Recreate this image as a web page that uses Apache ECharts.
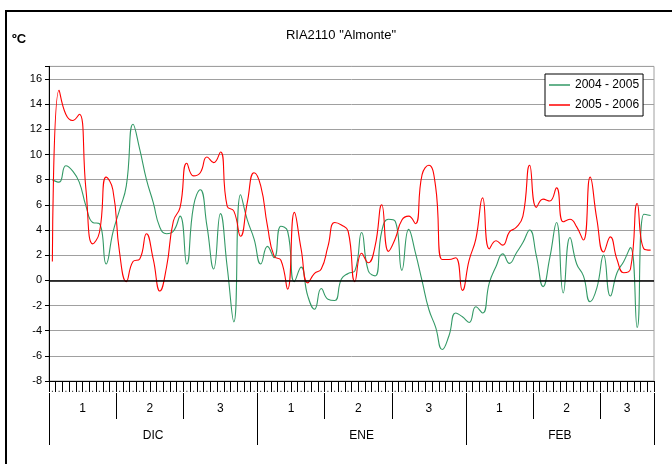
<!DOCTYPE html>
<html>
<head>
<meta charset="utf-8">
<script src="https://cdn.jsdelivr.net/npm/echarts@6/dist/echarts.min.js"></script>
<style>html,body{margin:0;padding:0;background:#fff;overflow:hidden}#c{width:672px;height:464px}</style>
</head>
<body>
<div id="c"></div>
<script>
// ---- data ----
const seriesNames = ['2004 - 2005', '2005 - 2006'];
// one value per day: 1 Dec .. 28 Feb (90 days)
const days = [];
(function(){ const ml=[['DIC',31],['ENE',31],['FEB',28]]; ml.forEach(m=>{for(let d=1;d<=m[1];d++) days.push(m[0]+' '+d);}); })();

const s2004 = [
  8.0, 7.8, 9.1, 8.7, 7.8, 5.9, 4.6, 4.5, 1.3, 3.8,
  5.6, 7.5, 12.4, 10.4, 8.0, 6.2, 4.2, 3.7, 3.9, 5.1,
  1.3, 5.9, 7.2, 4.3, 0.9, 5.3, 1.1, -3.3, 6.8, 4.8,
  3.3, 1.3, 2.7, 1.8, 4.3, 3.9, -0.1, 1.05, -1.25, -2.3,
  -0.65, -1.5, -1.6, 0.1, 0.55, 0.75, 3.8, 0.75, 0.35, 3.9,
  4.85, 4.7, 0.8, 4.05, 2.2, -0.05, -2.3, -3.7, -5.5, -4.4,
  -2.6, -2.9, -3.35, -2.1, -2.6, -0.2, 1.1, 2.1, 1.35, 2.15,
  3.0, 4.0, 1.95, -0.5, 1.8, 4.6, -1.0, 3.4, 1.3, 0.35,
  -1.7, -0.6, 2.0, -1.25, 0.6, 1.5, 2.6, -3.75, 5.25, 5.15
];
const s2005 = [
  1.5, 15.1, 13.2, 12.7, 13.2, 7.2, 2.9, 3.8, 8.2, 7.2,
  2.2, -0.1, 1.5, 1.7, 3.7, 1.7, -0.85, 1.1, 4.7, 5.8,
  9.3, 8.3, 8.55, 9.8, 9.35, 10.2, 5.9, 5.5, 3.5, 6.2,
  8.55, 7.5, 4.3, 1.9, 1.6, -0.7, 5.4, 2.5, -0.2, 0.55,
  0.9, 2.7, 4.6, 4.4, 3.9, -0.1, 2.15, 1.4, 2.7, 6.0,
  2.3, 3.3, 4.8, 5.1, 4.5, 8.4, 9.15, 7.5, 1.65, 1.65,
  1.8, -0.8, 1.6, 3.3, 6.55, 2.5, 3.15, 2.8, 3.85, 4.2,
  5.1, 9.15, 5.8, 6.45, 6.3, 7.35, 4.65, 4.85, 4.25, 3.2,
  8.2, 4.85, 2.25, 3.45, 1.65, 0.6, 0.9, 6.1, 2.5, 2.4
];
// grouping levels (day index boundaries)
const decadeBounds = [0, 10, 20, 31, 41, 51, 62, 72, 82, 90];
const decadeLabels = ['1', '2', '3', '1', '2', '3', '1', '2', '3'];
const monthBounds = [0, 31, 62, 90];
const monthLabels = ['DIC', 'ENE', 'FEB'];
const yTicks = { min: -8, max: 17, interval: 2 };

// ---- chart ----
const FONT = 'Liberation Sans, Arial, sans-serif';
const decadeCenters = decadeLabels.map((_, i) => (decadeBounds[i] + decadeBounds[i + 1]) / 2);
const monthCenters = monthLabels.map((_, i) => (monthBounds[i] + monthBounds[i + 1]) / 2);

const chart = echarts.init(document.getElementById('c'), null, { renderer: 'canvas' });
chart.setOption({
  animation: false,
  backgroundColor: '#fff',
  textStyle: { fontFamily: FONT },
  title: [
    { text: 'RIA2110 "Almonte"', left: 341, top: 29, textAlign: 'center', padding: 0,
      textStyle: { fontFamily: FONT, fontSize: 13, fontWeight: 'normal', color: '#000' } },
    { text: 'ºC', left: 12, top: 33, padding: 0,
      textStyle: { fontFamily: FONT, fontSize: 13, fontWeight: 'bold', color: '#000' } }
  ],
  legend: {
    orient: 'vertical', left: 545, top: 74,
    padding: [5, 4, 5, 4], itemGap: 8, itemWidth: 21, itemHeight: 1.5,
    icon: 'rect', borderColor: '#000', borderWidth: 1, backgroundColor: '#fff',
    textStyle: { fontFamily: FONT, fontSize: 12, color: '#000', padding: [0, 0, 0, 0] },
    data: seriesNames
  },
  grid: { left: 49, right: 18, top: 66.4, bottom: 83, show: true, borderColor: '#a0a0a0', borderWidth: 1, backgroundColor: 'transparent' },
  xAxis: [
    {
      type: 'category', data: days, boundaryGap: true, position: 'bottom',
      axisLine: { show: true, onZero: false, lineStyle: { color: '#000', width: 1 } },
      axisTick: { show: true, interval: 0, length: 11, lineStyle: { color: '#000', width: 1 } },
      axisLabel: { show: true, interval: 0, formatter: () => '.', fontSize: 10, margin: 3, color: '#333' },
      splitLine: { show: false }
    },
    {
      type: 'value', min: 0, max: 90, position: 'bottom', offset: 12,
      axisLine: { show: false, onZero: false },
      axisTick: { show: true, customValues: decadeBounds, length: 26, lineStyle: { color: '#000' } },
      axisLabel: { customValues: decadeCenters, margin: 10, fontSize: 12, color: '#000', fontFamily: FONT,
        formatter: v => decadeLabels[decadeCenters.indexOf(v)] },
      splitLine: { show: false }
    },
    {
      type: 'value', min: 0, max: 90, position: 'bottom', offset: 12,
      axisLine: { show: false, onZero: false },
      axisTick: { show: true, customValues: monthBounds, length: 52, lineStyle: { color: '#000' } },
      axisLabel: { customValues: monthCenters, margin: 37, fontSize: 12, color: '#000', fontFamily: FONT,
        formatter: v => monthLabels[monthCenters.indexOf(v)] },
      splitLine: { show: false }
    }
  ],
  yAxis: {
    type: 'value', min: yTicks.min, max: yTicks.max, interval: yTicks.interval,
    axisLine: { show: true, lineStyle: { color: '#000', width: 1 } },
    axisTick: { show: true, length: 4, lineStyle: { color: '#000' } },
    axisLabel: { fontSize: 11, color: '#000', margin: 7, fontFamily: FONT,
      formatter: v => (v > 16 ? '' : String(v)) },
    splitLine: { show: true, lineStyle: { color: '#a0a0a0', width: 1 } }
  },
  series: [
    {
      name: seriesNames[0], type: 'line', data: s2004, smooth: 0.5, symbol: 'none',
      lineStyle: { color: '#339966', width: 1.1 }, itemStyle: { color: '#339966' },
      markLine: { silent: true, symbol: 'none', label: { show: false },
        lineStyle: { color: '#000', width: 1.5, type: 'solid' }, data: [{ yAxis: 0 }] },
      z: 3
    },
    {
      name: seriesNames[1], type: 'line', data: s2005, smooth: 0.5, symbol: 'none',
      lineStyle: { color: '#ff0000', width: 1.1 }, itemStyle: { color: '#ff0000' }, z: 4
    }
  ],
  graphic: [
    { type: 'line', silent: true, z: -10, shape: { x1: 6, y1: 10, x2: 6, y2: 464 },
      style: { stroke: '#000', lineWidth: 2 } },
    { type: 'line', silent: true, z: -10, shape: { x1: 5, y1: 11, x2: 672, y2: 11 },
      style: { stroke: '#000', lineWidth: 2 } }
  ]
});
</script>
</body>
</html>
